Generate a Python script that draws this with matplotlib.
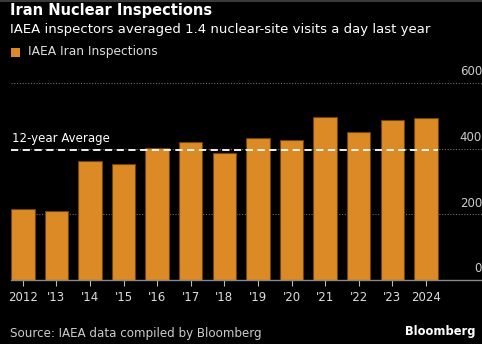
import matplotlib
matplotlib.use("Agg")
import matplotlib.pyplot as plt

years = ["2012", "'13", "'14", "'15", "'16", "'17", "'18", "'19", "'20", "'21", "'22", "'23", "2024"]
inspections = [215, 210, 361, 354, 402, 419, 386, 432, 426, 495, 450, 486, 494]
average = 396
yticks = [0, 200, 400, 600]

W, H = 482, 344
fig = plt.figure(figsize=(W / 100, H / 100), dpi=100)
fig.patch.set_facecolor("black")

font = "DejaVu Sans"

# thin grey strip along the top
fig.add_artist(plt.Rectangle((0, 1 - 2 / H), 1, 2 / H, transform=fig.transFigure,
                             color="#3a3a3a", lw=0))

ax = fig.add_axes([11 / W, 1 - 280 / H, (W - 11) / W, (280 - 83) / H])
ax.set_facecolor("black")

x = list(range(len(years)))
ax.bar(x, inspections, width=0.7, color="#db8a25", edgecolor="#6e4510", linewidth=0.8, zorder=2)

ax.set_xlim(-0.35, 13.67)
ax.set_ylim(0, 600)

for v in yticks[1:]:
    ax.axhline(v, color="#707070", lw=0.8, ls=(0, (1, 1.5)), zorder=1)
for v in yticks:
    ax.text(1.0, v + 14, str(v), transform=ax.get_yaxis_transform(), ha="right", va="bottom",
            color="#cccccc", fontsize=8.5, fontfamily=font)

ax.plot([-0.35, 12.35], [average, average], color="white", lw=1.3, ls=(0, (4, 2.5)), zorder=3)
ax.text(-0.32, average + 14, "12-year Average", color="white", fontsize=8.5,
        fontfamily=font, va="bottom", ha="left")

for s in ["top", "right", "left"]:
    ax.spines[s].set_visible(False)
ax.spines["bottom"].set_color("#888888")
ax.spines["bottom"].set_linewidth(1.0)
ax.set_yticks([])
ax.set_xticks(x)
ax.set_xticklabels(years, fontsize=8.5, fontfamily=font, color="#dddddd")
ax.tick_params(axis="x", colors="#bbbbbb", length=4, width=0.8, pad=4, labelcolor="#dddddd")

fig.text(10 / W, 1 - 11 / H, "Iran Nuclear Inspections", color="white", fontsize=10.5,
         fontweight="bold", fontfamily=font, va="center", ha="left")
fig.text(10 / W, 1 - 29 / H, "IAEA inspectors averaged 1.4 nuclear-site visits a day last year",
         color="white", fontsize=9.5, fontfamily=font, va="center", ha="left")
fig.add_artist(plt.Rectangle((11 / W, 1 - 57 / H), 9 / W, 9 / H, transform=fig.transFigure,
                             color="#db8a25", lw=0))
fig.text(28 / W, 1 - 52 / H, "IAEA Iran Inspections", color="#dddddd", fontsize=8.8,
         fontfamily=font, va="center", ha="left")

fig.text(10 / W, 1 - 334 / H, "Source: IAEA data compiled by Bloomberg", color="#cccccc",
         fontsize=8.6, fontfamily=font, va="center", ha="left")
fig.text(476 / W, 1 - 332 / H, "Bloomberg", color="white", fontsize=8.3, fontweight="bold",
         fontfamily=font, va="center", ha="right")

fig.savefig("out.png", dpi=100, facecolor="black")
